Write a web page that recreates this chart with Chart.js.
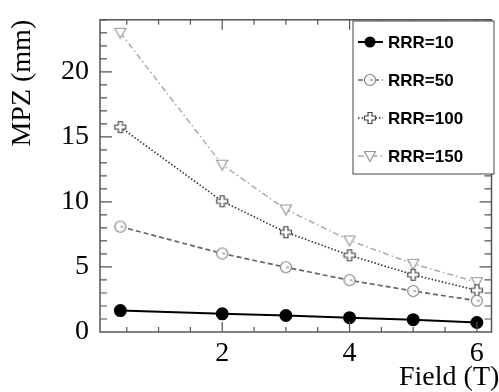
<!DOCTYPE html>
<html>
<head>
<meta charset="utf-8">
<script src="https://cdn.jsdelivr.net/npm/chart.js@4/dist/chart.umd.min.js"></script>
<style>
  body { margin: 0; background: #fff; }
  canvas { display: block; }
</style>
</head>
<body>
<canvas id="myChart" width="499" height="392"></canvas>
<script>
// data
var field = [0.4, 2, 3, 4, 5, 6];
var rrr10 = [1.65, 1.4, 1.27, 1.1, 0.95, 0.73];
var rrr50 = [8.1, 6.03, 4.98, 3.98, 3.15, 2.4];
var rrr100 = [15.75, 10.05, 7.67, 5.9, 4.4, 3.2];
var rrr150 = [23.0, 12.86, 9.42, 7.04, 5.24, 3.83];
var seriesNames = ['RRR=10', 'RRR=50', 'RRR=100', 'RRR=150'];
var xTicks = [2, 4, 6];
var yTicks = [0, 5, 10, 15, 20];

function pts(ys) {
    return field.map(function (x, i) { return {x: x, y: ys[i]}; });
}

// little canvases used as point styles
function marker(kind, color) {
    var c = document.createElement('canvas');
    c.width = 14; c.height = 14;
    var g = c.getContext('2d');
    g.strokeStyle = color;
    g.lineWidth = 1.2;
    g.fillStyle = '#fff';
    if (kind === 'circle') {
        g.beginPath(); g.arc(7, 7, 5.5, 0, Math.PI * 2); g.fill(); g.stroke();
        g.beginPath(); g.moveTo(7, 7); g.lineTo(10, 7); g.stroke();
    } else if (kind === 'plus') {
        g.beginPath();
        g.moveTo(5, 1.5); g.lineTo(9, 1.5); g.lineTo(9, 5); g.lineTo(12.5, 5);
        g.lineTo(12.5, 9); g.lineTo(9, 9); g.lineTo(9, 12.5); g.lineTo(5, 12.5);
        g.lineTo(5, 9); g.lineTo(1.5, 9); g.lineTo(1.5, 5); g.lineTo(5, 5);
        g.closePath(); g.fill(); g.stroke();
    } else if (kind === 'tri') {
        g.beginPath();
        g.moveTo(1.5, 2.5); g.lineTo(12.5, 2.5); g.lineTo(7, 12.5);
        g.closePath(); g.fill(); g.stroke();
    }
    return c;
}

var serif = "'Liberation Serif', 'DejaVu Serif', serif";

var frame = {
    id: 'frame',
    afterDraw: function (chart) {
        var ctx = chart.ctx, a = chart.chartArea;
        var xs = chart.scales.x, ys = chart.scales.y;
        ctx.save();
        ctx.strokeStyle = '#555';
        ctx.lineWidth = 1.5;
        ctx.strokeRect(a.left, a.top, a.right - a.left, a.bottom - a.top);
        ctx.lineWidth = 1.2;
        ctx.beginPath();
        // x ticks every 0.5, bottom and top
        for (var v = 0.5; v <= 6.2; v += 0.5) {
            var px = xs.getPixelForValue(v);
            var len = (v % 2 === 0) ? 10 : 5;
            ctx.moveTo(px, a.bottom); ctx.lineTo(px, a.bottom - len);
            ctx.moveTo(px, a.top); ctx.lineTo(px, a.top + len);
        }
        // y ticks every 1, left and right
        for (var w = 1; w <= 24; w++) {
            var py = ys.getPixelForValue(w);
            var l2 = (w % 5 === 0) ? 12 : 7;
            ctx.moveTo(a.left, py); ctx.lineTo(a.left + l2, py);
            ctx.moveTo(a.right, py); ctx.lineTo(a.right - l2, py);
        }
        ctx.stroke();

        // x title runs off the right edge like in the original
        ctx.fillStyle = '#000';
        ctx.font = '28px ' + serif;
        ctx.textBaseline = 'alphabetic';
        ctx.textAlign = 'left';
        ctx.fillText('Field (T)', 399, 385);

        // legend box inside the plot
        var bx = 353, by = 21, bw = 141, bh = 153;
        ctx.fillStyle = '#fff';
        ctx.fillRect(bx, by, bw, bh);
        ctx.strokeStyle = '#444';
        ctx.lineWidth = 1;
        ctx.strokeRect(bx, by, bw, bh);
        ctx.font = "bold 17px 'Liberation Sans', Arial, sans-serif";
        ctx.textBaseline = 'middle';
        chart.data.datasets.forEach(function (ds, i) {
            var y = by + 21 + i * 38;
            ctx.strokeStyle = ds.borderColor;
            ctx.lineWidth = ds.borderWidth;
            ctx.setLineDash(ds.borderDash || []);
            ctx.beginPath(); ctx.moveTo(358, y); ctx.lineTo(383, y); ctx.stroke();
            ctx.setLineDash([]);
            if (typeof ds.pointStyle === 'string') {
                ctx.fillStyle = ds.pointBackgroundColor;
                ctx.beginPath(); ctx.arc(370, y, 5.5, 0, Math.PI * 2); ctx.fill();
            } else {
                ctx.drawImage(ds.pointStyle, 370 - 7, y - 7);
            }
            ctx.fillStyle = '#000';
            ctx.fillText(ds.label, 388, y + 1);
        });
        ctx.restore();
    }
};

var ctx = document.getElementById('myChart').getContext('2d');
var myChart = new Chart(ctx, {
    type: 'line',
    data: {
        datasets: [{
            label: seriesNames[0],
            data: pts(rrr10),
            borderColor: '#000',
            borderWidth: 2,
            pointStyle: 'circle',
            pointRadius: 5.5,
            pointBackgroundColor: '#000',
            pointBorderColor: '#000'
        }, {
            label: seriesNames[1],
            data: pts(rrr50),
            borderColor: '#666',
            borderWidth: 1.7,
            borderDash: [5, 3],
            pointStyle: marker('circle', '#808080')
        }, {
            label: seriesNames[2],
            data: pts(rrr100),
            borderColor: '#333',
            borderWidth: 1.6,
            borderDash: [1.5, 2],
            pointStyle: marker('plus', '#444')
        }, {
            label: seriesNames[3],
            data: pts(rrr150),
            borderColor: '#aaa',
            borderWidth: 1.5,
            borderDash: [6, 3, 1.5, 3],
            pointStyle: marker('tri', '#999')
        }]
    },
    options: {
        responsive: false,
        animation: false,
        layout: { padding: { top: 12, right: 2, left: 0, bottom: 0 } },
        plugins: {
            legend: { display: false },
            tooltip: { enabled: false }
        },
        scales: {
            x: {
                type: 'linear',
                min: 0.08,
                max: 6.23,
                grid: { display: false },
                border: { display: false },
                afterBuildTicks: function (s) { s.ticks = xTicks.map(function (v) { return {value: v}; }); },
                afterFit: function (s) { s.height = 60; },
                ticks: { color: '#000', padding: -3, maxRotation: 0, font: { family: serif, size: 28 } }
            },
            y: {
                min: 0,
                max: 24,
                grid: { display: false },
                border: { display: false },
                afterBuildTicks: function (s) { s.ticks = yTicks.map(function (v) { return {value: v}; }); },
                afterFit: function (s) { s.width = 100; },
                ticks: { color: '#000', padding: 3, font: { family: serif, size: 28 } },
                title: { display: true, text: 'MPZ (mm)', align: 'end', color: '#000', padding: { top: 6 }, font: { family: serif, size: 28 } }
            }
        }
    },
    plugins: [frame]
});
</script>
</body>
</html>
